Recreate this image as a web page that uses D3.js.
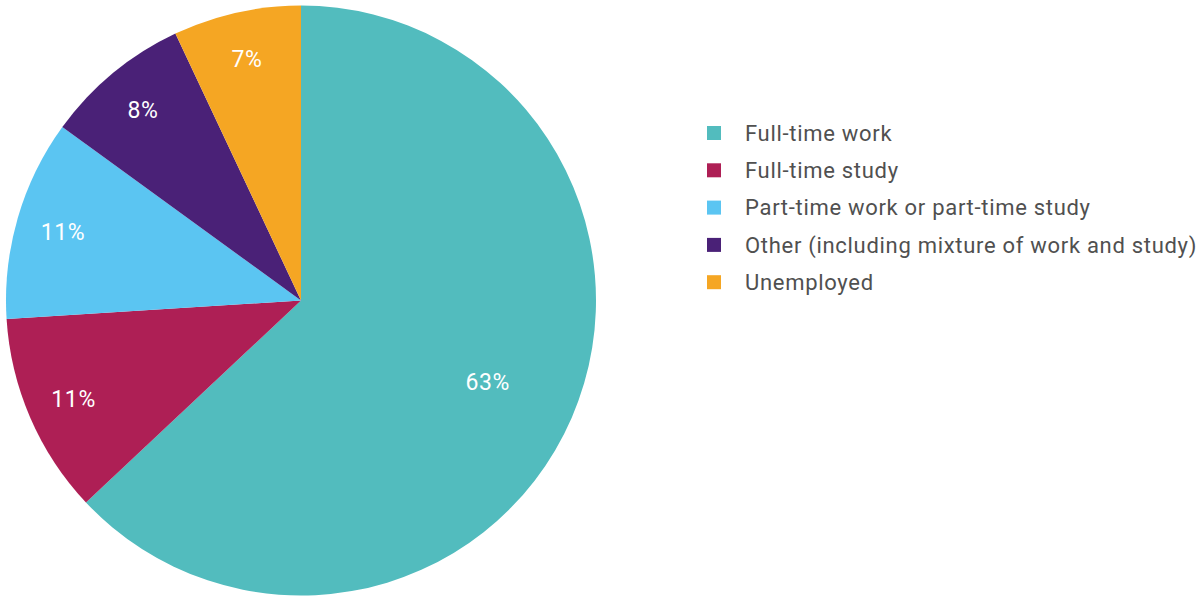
<!DOCTYPE html>
<html>
<head>
<meta charset="utf-8">
<script src="https://cdn.jsdelivr.net/npm/d3@7"></script>
<style>
  html, body { margin: 0; padding: 0; background: #fff; }
  svg { display: block; }
</style>
</head>
<body>
<svg id="chart" width="1202" height="596"></svg>
<script>
// Destination of graduates (share, %)
const categories = [
  "Full-time work",
  "Full-time study",
  "Part-time work or part-time study",
  "Other (including mixture of work and study)",
  "Unemployed"
];
const shares = [63, 11, 11, 8, 7];
const sliceColors = ["#52bcbe", "#ae1f55", "#5bc5f2", "#4a2177", "#f5a623"];

const svg = d3.select("#chart");
const cx = 301, cy = 300.5, radius = 295;
const fontFamily = "Roboto, 'DejaVu Sans', sans-serif";

const color = d3.scaleOrdinal().domain(categories).range(sliceColors);

const pie = d3.pie().sort(null).value(d => d.value);
const arcs = pie(categories.map((c, i) => ({ name: c, value: shares[i] })));

const arc = d3.arc().innerRadius(0).outerRadius(radius);
const labelArcLarge = d3.arc().innerRadius(radius * 0.69).outerRadius(radius * 0.69);
const labelArcSmall = d3.arc().innerRadius(radius * 0.84).outerRadius(radius * 0.84);

const g = svg.append("g").attr("transform", `translate(${cx},${cy})`);

g.selectAll("path.slice")
  .data(arcs)
  .join("path")
  .attr("class", "slice")
  .attr("d", arc)
  .attr("fill", d => color(d.data.name));

g.selectAll("text.pct")
  .data(arcs)
  .join("text")
  .attr("class", "pct")
  .attr("transform", d => {
    const a = d.data.value > 50 ? labelArcLarge : labelArcSmall;
    return `translate(${a.centroid(d)})`;
  })
  .attr("text-anchor", "middle")
  .attr("dy", "0.36em")
  .attr("fill", "#ffffff")
  .attr("font-family", fontFamily)
  .attr("font-size", 23)
  .attr("letter-spacing", 0.6)
  .text(d => d.data.value + "%");

// Legend
const legend = svg.append("g").attr("transform", "translate(707,133)");
const rowStep = 37.3;
const rows = legend.selectAll("g.row")
  .data(categories)
  .join("g")
  .attr("class", "row")
  .attr("transform", (d, i) => `translate(0,${i * rowStep})`);

rows.append("rect")
  .attr("x", 0)
  .attr("y", -7)
  .attr("width", 14)
  .attr("height", 14)
  .attr("fill", d => color(d));

rows.append("text")
  .attr("x", 38)
  .attr("y", 0)
  .attr("dy", "0.35em")
  .attr("fill", "#505050")
  .attr("font-family", fontFamily)
  .attr("font-size", 22)
  .attr("letter-spacing", 0.7)
  .text(d => d);
</script>
</body>
</html>
